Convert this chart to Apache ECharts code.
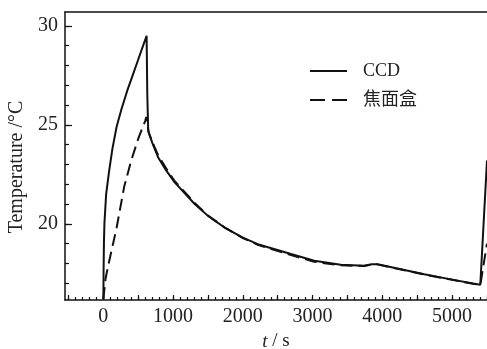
<!DOCTYPE html>
<html>
<head>
<meta charset="utf-8">
<script src="https://cdn.jsdelivr.net/npm/echarts@6/dist/echarts.min.js"></script>
<style>html,body{margin:0;padding:0;background:#fff}#c{width:487px;height:349px}</style>
</head>
<body>
<div id="c"></div>
<script>
var seriesNames = ['CCD', '焦面盒'];
var ccdTime = [0, 3, 8, 15, 40, 80, 130, 190, 260, 340, 420, 500, 580, 620, 630, 643, 700, 786, 900, 1023, 1309, 1500, 1737, 2000, 2214, 2690, 3023, 3404, 3737, 3850, 3929, 4200, 4600, 5000, 5300, 5404, 5420, 5500];
var ccdTemp = [16.2, 17.5, 19.0, 20.0, 21.5, 22.6, 23.8, 24.9, 25.8, 26.7, 27.5, 28.3, 29.1, 29.5, 26.5, 24.7, 24.1, 23.35, 22.7, 22.09, 21.0, 20.4, 19.81, 19.3, 18.97, 18.47, 18.13, 17.93, 17.88, 17.96, 17.96, 17.75, 17.45, 17.18, 16.98, 16.92, 16.87, 23.2];
var boxTime = [0, 30, 70, 190, 300, 400, 500, 600, 615, 650, 700, 786, 900, 1023, 1309, 1500, 1737, 2000, 2214, 2690, 3023, 3404, 3737, 3850, 3929, 4200, 4600, 5000, 5300, 5404, 5420, 5500];
var boxTemp = [16.2, 17.2, 17.9, 19.8, 21.9, 23.2, 24.3, 25.2, 25.4, 24.6, 24.15, 23.45, 22.8, 22.15, 21.05, 20.42, 19.82, 19.28, 18.94, 18.42, 18.08, 17.9, 17.87, 17.95, 17.95, 17.74, 17.44, 17.17, 16.97, 16.91, 16.87, 19.0];
var xLabelValues = [0, 1000, 2000, 3000, 4000, 5000];
var xMajorTicks = [-500, 0, 500, 1000, 1500, 2000, 2500, 3000, 3500, 4000, 4500, 5000, 5500];
var yLabelValues = [20, 25, 30];
var yMinorTicks = [17, 18, 19, 20, 21, 22, 23, 24, 25, 26, 27, 28, 29, 30];

function zip(a, b) { return a.map(function (v, i) { return [v, b[i]]; }); }
var xMinorTicks = [];
for (var v = -500; v <= 5500; v += 100) xMinorTicks.push(v);

var serif = '"Liberation Serif","DejaVu Serif",serif';
var txt = '#222';
var lineC = '#111';
var chart = echarts.init(document.getElementById('c'), null, {renderer: 'canvas'});
var xmin = -550, xmax = 5500, ymin = 16.15, ymax = 30.7;
chart.setOption({
  animation: false,
  backgroundColor: '#fff',
  grid: {left: 65, right: 0, top: 12, bottom: 49, containLabel: false, outerBoundsMode: 'none'},
  legend: {
    orient: 'vertical', left: 305, top: 57, itemWidth: 37, itemHeight: 2, itemGap: 11,
    textStyle: {fontFamily: serif + ',"Noto Sans CJK SC"', fontSize: 18, color: txt, padding: [0, 0, 0, 11]},
    data: [
      {name: seriesNames[0], icon: 'path://M0,0h37v2h-37z'},
      {name: seriesNames[1], icon: 'path://M0,0h15v2h-15zM22,0h15v2h-15z'}
    ]
  },
  xAxis: [
    {type: 'value', min: xmin, max: xmax, position: 'bottom',
     axisLine: {show: true, onZero: false, lineStyle: {color: lineC, width: 1.5}},
     axisTick: {show: true, inside: true, length: 5, customValues: xMajorTicks, lineStyle: {color: lineC, width: 1.2}},
     axisLabel: {customValues: xLabelValues, color: txt, fontFamily: serif, fontSize: 20, margin: 7,
                 formatter: function (v) { return String(v); }},
     splitLine: {show: false},
     name: '{i|t} / s', nameLocation: 'middle', nameGap: 32,
     nameTextStyle: {color: txt, fontFamily: serif, fontSize: 19, rich: {i: {fontStyle: 'italic', fontFamily: serif, fontSize: 19, color: txt}}}
    },
    {type: 'value', min: xmin, max: xmax, position: 'bottom',
     axisLine: {show: false, onZero: false},
     axisTick: {show: true, inside: true, length: 3, customValues: xMinorTicks, lineStyle: {color: lineC, width: 1.2}},
     axisLabel: {show: false}, splitLine: {show: false}
    },
    {type: 'value', min: xmin, max: xmax, position: 'top',
     axisLine: {show: true, onZero: false, lineStyle: {color: lineC, width: 1.5}},
     axisTick: {show: false}, axisLabel: {show: false}, splitLine: {show: false}
    }
  ],
  yAxis: [
    {type: 'value', min: ymin, max: ymax, position: 'left',
     axisLine: {show: true, onZero: false, lineStyle: {color: lineC, width: 1.5}},
     axisTick: {show: true, inside: true, length: 7, customValues: yLabelValues, lineStyle: {color: lineC, width: 1.2}},
     axisLabel: {customValues: yLabelValues, color: txt, fontFamily: serif, fontSize: 20, margin: 7},
     splitLine: {show: false},
     name: 'Temperature /°C', nameLocation: 'middle', nameGap: 35, nameRotate: 90,
     nameTextStyle: {color: txt, fontFamily: serif, fontSize: 20, padding: [0, 22, 0, 0]}
    },
    {type: 'value', min: ymin, max: ymax, position: 'left',
     axisLine: {show: false, onZero: false},
     axisTick: {show: true, inside: true, length: 4, customValues: yMinorTicks, lineStyle: {color: lineC, width: 1.2}},
     axisLabel: {show: false}, splitLine: {show: false}
    }
  ],
  series: [
    {name: seriesNames[0], type: 'line', xAxisIndex: 0, yAxisIndex: 0, symbol: 'none', smooth: false,
     data: zip(ccdTime, ccdTemp), lineStyle: {color: lineC, width: 2, type: 'solid'}, itemStyle: {color: lineC}},
    {name: seriesNames[1], type: 'line', xAxisIndex: 0, yAxisIndex: 0, symbol: 'none', smooth: false,
     data: zip(boxTime, boxTemp), lineStyle: {color: lineC, width: 2, type: [12, 6]}, itemStyle: {color: lineC}}
  ]
});
</script>
</body>
</html>
